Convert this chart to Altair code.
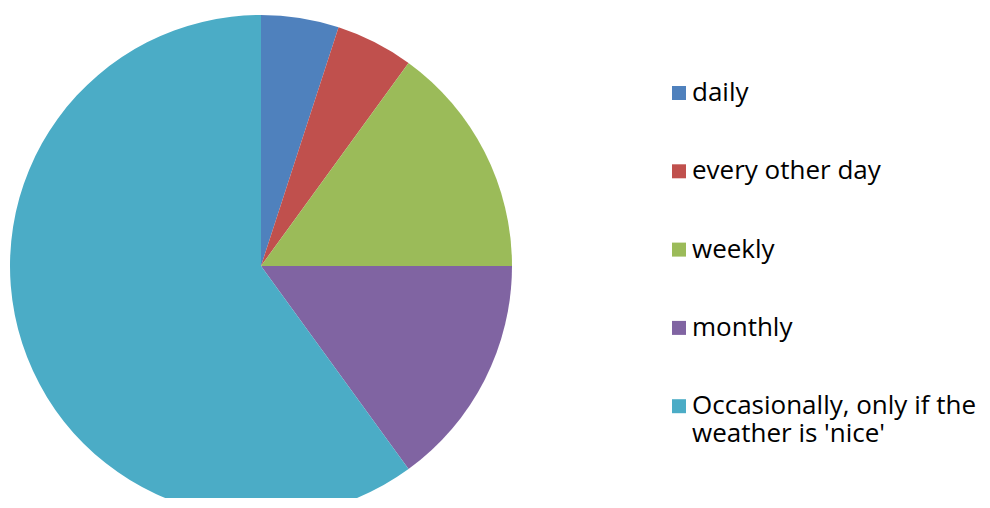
import altair as alt
import pandas as pd

categories = ["daily", "every other day", "weekly", "monthly",
              "Occasionally, only if the weather is 'nice'"]
values = [5, 5, 15, 15, 60]
colors = ["#4F81BD", "#C0504D", "#9BBB59", "#8064A2", "#4BACC6"]

df = pd.DataFrame({"category": categories, "value": values,
                   "order": list(range(len(categories)))})

label_expr = ("datum.label == \"Occasionally, only if the weather is 'nice'\" ? "
              "['Occasionally, only if the', \"weather is 'nice'\"] : datum.label")

chart = alt.Chart(df).mark_arc(outerRadius=251, stroke=None).encode(
    theta=alt.Theta("value:Q", stack=True),
    order=alt.Order("order:Q"),
    color=alt.Color("category:N", sort=categories,
                    scale=alt.Scale(domain=categories, range=colors),
                    legend=alt.Legend(title=None, orient="none",
                                      legendX=658, legendY=72,
                                      symbolType="square", symbolSize=196,
                                      symbolStrokeWidth=0,
                                      labelFontSize=26, labelFont="Open Sans",
                                      labelColor="#000000", labelOffset=0,
                                      labelLimit=400, rowPadding=52.3,
                                      labelExpr=label_expr, padding=0)),
    x=alt.value(253),
    y=alt.value(258),
).properties(width=974, height=490, padding=0, autosize="none")

chart = chart.configure_view(stroke=None)
chart.save("out.html", embed_options={"renderer": "svg", "actions": False})
